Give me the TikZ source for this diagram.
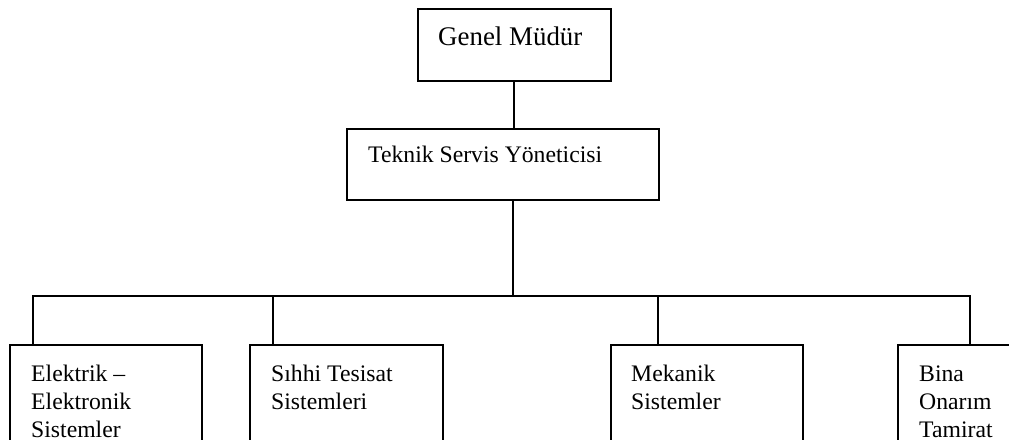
\documentclass[tikz,border=0pt]{standalone}
\usepackage{fontspec}
\setmainfont{Liberation Serif}
\tikzset{
  x=1pt, y=1pt,
  box/.style={draw, line width=1.8pt, rectangle, inner sep=0pt, anchor=north west},
  lbl/.style={anchor=base west, inner sep=0pt, align=left, font=\fontsize{23.7}{28}\selectfont},
  conn/.style={line width=1.8pt}
}
\begin{document}
\begin{tikzpicture}
\useasboundingbox (0,0) rectangle (1009,-439);
\clip (0,0) rectangle (1009,-439);
% boxes
\node[box, minimum width=193pt, minimum height=72pt] (gm) at (417,-8) {};
\node[box, minimum width=312pt, minimum height=71pt] (tsy) at (346,-128) {};
\node[box, minimum width=192pt, minimum height=140pt] (b1) at (9,-344) {};
\node[box, minimum width=193pt, minimum height=140pt] (b2) at (249,-344) {};
\node[box, minimum width=192pt, minimum height=140pt] (b3) at (610,-344) {};
\node[box, minimum width=192pt, minimum height=140pt] (b4) at (897,-344) {};
% texts (anchor is the baseline of the last line)
\node[lbl, font=\fontsize{26.9}{30}\selectfont] (tgm) at ([xshift=21pt,yshift=-37pt]gm.north west) {Genel Müdür};
\node[lbl] (ttsy) at ([xshift=22pt,yshift=-34pt]tsy.north west) {Teknik Servis Yöneticisi};
\node[lbl] (tb1) at ([xshift=22pt,yshift=-93pt]b1.north west) {Elektrik –\\Elektronik\\Sistemler};
\node[lbl] (tb2) at ([xshift=22pt,yshift=-65pt]b2.north west) {Sıhhi Tesisat\\Sistemleri};
\node[lbl] (tb3) at ([xshift=21pt,yshift=-65pt]b3.north west) {Mekanik\\Sistemler};
\node[lbl] (tb4) at ([xshift=22pt,yshift=-93pt]b4.north west) {Bina\\Onarım\\Tamirat};
% connectors
\coordinate (top) at (514,-80);
\coordinate (mid) at (513,-199);
\coordinate (bus) at (513,-296);
\coordinate (d1) at (33,-296);
\coordinate (d2) at (273,-296);
\coordinate (d3) at (658,-296);
\coordinate (d4) at (970,-296);
\draw[conn] (top |- gm.south) -- (top |- tsy.north);
\draw[conn] (mid |- tsy.south) -- (bus);
\draw[conn] (d1 |- b1.north) -- (d1) -- (d4) -- (d4 |- b4.north);
\draw[conn] (d2) -- (d2 |- b2.north);
\draw[conn] (d3) -- (d3 |- b3.north);
\end{tikzpicture}
\end{document}
